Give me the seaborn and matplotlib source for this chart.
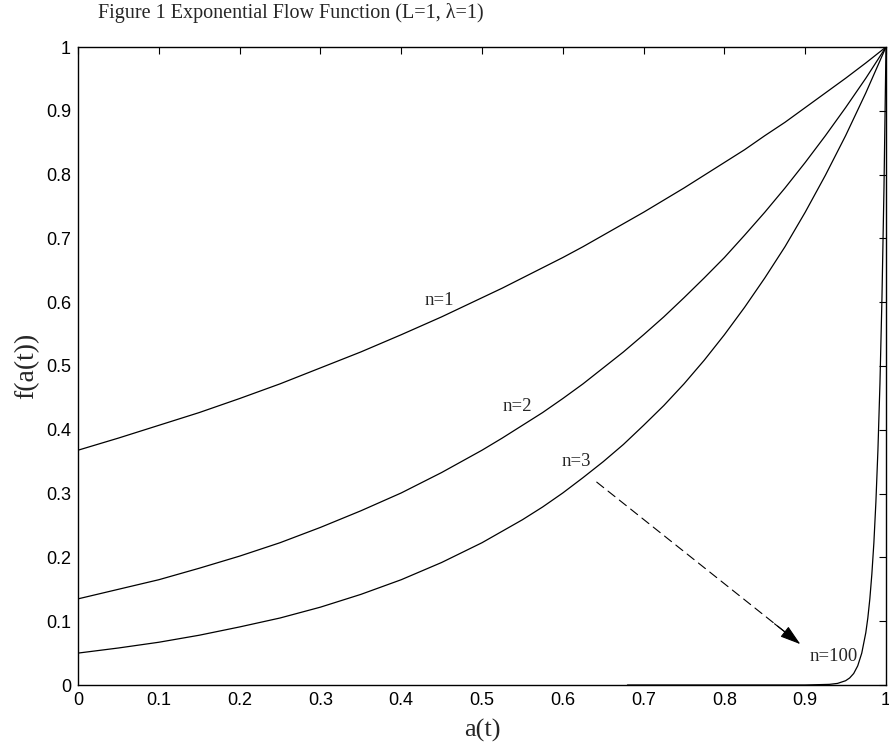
import matplotlib
matplotlib.use("Agg")
import matplotlib.pyplot as plt
import seaborn as sns
import pandas as pd

# Values
a_grid = [0.0, 0.05, 0.1, 0.15, 0.2, 0.25, 0.3, 0.35, 0.4, 0.45, 0.5,
          0.525, 0.55, 0.575, 0.6, 0.625, 0.65, 0.675, 0.7, 0.725, 0.75,
          0.775, 0.8, 0.825, 0.85, 0.875, 0.9, 0.925, 0.95, 0.975, 1.0]
f_n1 = [0.368, 0.387, 0.407, 0.427, 0.449, 0.472, 0.497, 0.522, 0.549, 0.577, 0.607,
        0.622, 0.638, 0.654, 0.670, 0.687, 0.705, 0.723, 0.741, 0.760, 0.779,
        0.799, 0.819, 0.839, 0.861, 0.882, 0.905, 0.928, 0.951, 0.975, 1.0]
f_n2 = [0.135, 0.150, 0.165, 0.183, 0.202, 0.223, 0.247, 0.273, 0.301, 0.333, 0.368,
        0.387, 0.407, 0.427, 0.449, 0.472, 0.497, 0.522, 0.549, 0.577, 0.607,
        0.638, 0.670, 0.705, 0.741, 0.779, 0.819, 0.861, 0.905, 0.951, 1.0]
f_n3 = [0.050, 0.058, 0.067, 0.078, 0.091, 0.105, 0.122, 0.142, 0.165, 0.192, 0.223,
        0.241, 0.259, 0.279, 0.301, 0.325, 0.350, 0.377, 0.407, 0.438, 0.472,
        0.509, 0.549, 0.592, 0.638, 0.687, 0.741, 0.799, 0.861, 0.928, 1.0]
a_n100 = [0.68, 0.8, 0.9, 0.93, 0.94, 0.95, 0.955, 0.96, 0.965, 0.97, 0.975, 0.9775,
          0.98, 0.9825, 0.985, 0.9875, 0.99, 0.9925, 0.995, 0.9975, 1.0]
f_n100 = [0.0, 0.0, 0.0, 0.001, 0.0025, 0.0067, 0.011, 0.018, 0.030, 0.050, 0.082, 0.105,
          0.135, 0.174, 0.223, 0.287, 0.368, 0.472, 0.607, 0.779, 1.0]

labels = ["n=1", "n=2", "n=3", "n=100"]
label_pos = [(0.447, 0.603), (0.544, 0.436), (0.617, 0.351), (0.935, 0.044)]
ticks = [0, 0.1, 0.2, 0.3, 0.4, 0.5, 0.6, 0.7, 0.8, 0.9, 1]
tick_labels = ["0", "0.1", "0.2", "0.3", "0.4", "0.5", "0.6", "0.7", "0.8", "0.9", "1"]
title = "Figure 1 Exponential Flow Function (L=1, \u03bb=1)"
xlabel = "a(t)"
ylabel = "f(a(t))"

sns.set_style("white")
plt.rcParams["font.family"] = ["Liberation Sans", "DejaVu Sans"]
serif = ["Liberation Serif", "DejaVu Serif"]

fig = plt.figure(figsize=(8.89, 7.46), dpi=100)
ax = fig.add_axes([78 / 889, 1 - 685 / 746, (886 - 78) / 889, (685 - 47) / 746])

series = [(a_grid, f_n1), (a_grid, f_n2), (a_grid, f_n3), (a_n100, f_n100)]
for (xs, ys), lab in zip(series, labels):
    df = pd.DataFrame({"a": xs, "f": ys})
    sns.lineplot(data=df, x="a", y="f", ax=ax, color="black", linewidth=0.9,
                 sort=False, estimator=None)

for lab, (x, y) in zip(labels, label_pos):
    ax.text(x, y, lab, ha="center", va="center", fontsize=13.5, family=serif)

# dashed arrow from n=3 towards n=100
ax.annotate("", xy=(0.894, 0.064), xytext=(0.642, 0.318),
            arrowprops=dict(arrowstyle="-", color="black", lw=0.8,
                            linestyle=(0, (8, 5)), shrinkA=0, shrinkB=10))
ax.annotate("", xy=(0.894, 0.064), xytext=(0.862, 0.096),
            arrowprops=dict(arrowstyle="-|>,head_length=0.8,head_width=0.25",
                            color="black", lw=0.8, mutation_scale=16,
                            shrinkA=0, shrinkB=0))

ax.set_xlim(0, 1)
ax.set_ylim(0, 1)
ax.set_xticks(ticks)
ax.set_xticklabels(tick_labels)
ax.set_yticks(ticks)
ax.set_yticklabels(tick_labels)
ax.tick_params(direction="in", top=True, right=True, length=5, width=0.8,
               labelsize=13, colors="black", pad=5)
for s in ax.spines.values():
    s.set_visible(True)
    s.set_color("black")
    s.set_linewidth(1.0)

ax.set_xlabel(xlabel, fontsize=19, family=serif, labelpad=7)
ax.set_ylabel(ylabel, fontsize=20, family=serif, labelpad=5)

fig.text(98 / 889, 1 - 3 / 746, title, ha="left", va="top", fontsize=14.5,
         family=serif)

fig.savefig("out.png", dpi=100)
